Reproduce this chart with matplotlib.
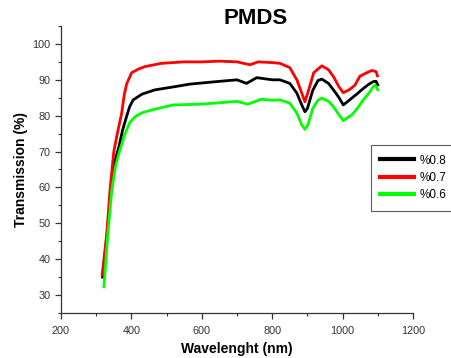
import matplotlib
matplotlib.use("Agg")
import matplotlib.pyplot as plt
from matplotlib.ticker import MultipleLocator

plt.rcParams['font.family'] = ['Liberation Sans', 'DejaVu Sans']

# Transmission spectra of PMDS films
wl_08 = [318, 330, 340, 352, 365, 375, 387, 395, 405, 430, 467, 524, 566, 642, 700,
         727, 756, 800, 822, 850, 870, 884, 893, 900, 915, 930, 941, 960, 974, 990,
         1002, 1015, 1026, 1040, 1059, 1075, 1087, 1095, 1100]
t_08 = [35.0, 46.0, 57.0, 67.0, 71.5, 76.0, 80.0, 82.5, 84.4, 86.0, 87.2, 88.1, 88.8, 89.5, 90.0,
        89.0, 90.6, 90.0, 90.0, 89.0, 86.3, 83.0, 81.1, 82.0, 87.0, 89.8, 90.2, 89.0, 87.2, 85.0,
        83.0, 84.0, 84.9, 86.0, 87.6, 88.8, 89.5, 89.6, 88.6]

wl_07 = [317, 322, 330, 339, 350, 360, 372, 380, 387, 401, 420, 439, 486, 550, 600,
         650, 700, 737, 760, 800, 822, 850, 870, 884, 893, 903, 918, 941, 960, 974,
         990, 1002, 1020, 1035, 1049, 1065, 1083, 1095, 1099]
t_07 = [35.6, 40.0, 47.0, 59.0, 70.0, 75.0, 80.5, 86.0, 89.0, 92.0, 93.0, 93.7, 94.6, 95.0, 95.0,
        95.2, 95.0, 94.2, 95.0, 94.8, 94.6, 93.4, 90.0, 86.3, 83.9, 87.0, 92.0, 93.9, 92.8, 90.9,
        88.0, 86.4, 87.3, 88.5, 91.0, 91.8, 92.6, 92.3, 91.1]

wl_06 = [322, 333, 344, 355, 366, 382, 395, 410, 430, 458, 518, 595, 650, 700, 730,
         770, 800, 822, 850, 870, 884, 893, 902, 915, 930, 941, 960, 974, 990, 1002,
         1015, 1026, 1040, 1059, 1075, 1087, 1093, 1100]
t_06 = [32.3, 47.0, 59.0, 66.0, 70.0, 75.0, 78.0, 79.7, 80.8, 81.6, 83.0, 83.2, 83.6, 84.0, 83.2,
        84.6, 84.3, 84.4, 83.5, 80.7, 77.4, 76.2, 77.5, 82.0, 84.3, 84.9, 84.0, 82.5, 80.2, 78.6,
        79.5, 80.2, 81.8, 84.4, 86.3, 88.1, 88.5, 87.2]

series_labels = ['%0.8', '%0.7', '%0.6']
series_colors = ['#000000', '#ff0000', '#00ff00']

fig = plt.figure(figsize=(4.51, 3.58), dpi=100)
ax = fig.add_axes([61 / 451, 1 - 313 / 358, 352 / 451, 287 / 358])

for wl, t, lab, col in zip([wl_08, wl_07, wl_06], [t_08, t_07, t_06], series_labels, series_colors):
    ax.plot(wl, t, color=col, lw=2.0, label=lab, solid_joinstyle='round')

ax.set_xlim(200, 1200)
ax.set_ylim(25, 105)
ax.xaxis.set_major_locator(MultipleLocator(200))
ax.xaxis.set_minor_locator(MultipleLocator(100))
ax.yaxis.set_major_locator(MultipleLocator(10))
ax.yaxis.set_minor_locator(MultipleLocator(5))
ax.set_yticks(range(30, 101, 10))

for side in ('top', 'right'):
    ax.spines[side].set_visible(False)
for side in ('left', 'bottom'):
    ax.spines[side].set_color('#333333')
    ax.spines[side].set_linewidth(0.9)

ax.tick_params(which='major', direction='out', length=4, width=0.9, color='#333333',
               labelsize=7.8, labelcolor='#333333')
ax.tick_params(axis='x', which='major', pad=5)
ax.tick_params(axis='y', which='major', pad=3.5)
ax.tick_params(which='minor', direction='out', length=2.5, width=0.8, color='#333333')

ax.set_xlabel('Wavelenght (nm)', fontsize=10, fontweight='bold', labelpad=5)
ax.set_ylabel('Transmission (%)', fontsize=10, fontweight='bold', labelpad=3.2)

fig.text(256 / 451, 1 - 18 / 358, 'PMDS', fontsize=16, fontweight='bold',
         ha='center', va='center')

leg = ax.legend(loc='upper left', bbox_to_anchor=(0.88, 0.585), fontsize=8.5,
                frameon=True, fancybox=False, edgecolor='#333333',
                handlelength=2.9, handletextpad=0.4, labelspacing=0.45,
                borderpad=0.8, borderaxespad=0)
leg.get_frame().set_linewidth(0.8)
for line in leg.get_lines():
    line.set_linewidth(3.0)

fig.savefig('out.png', dpi=100)
